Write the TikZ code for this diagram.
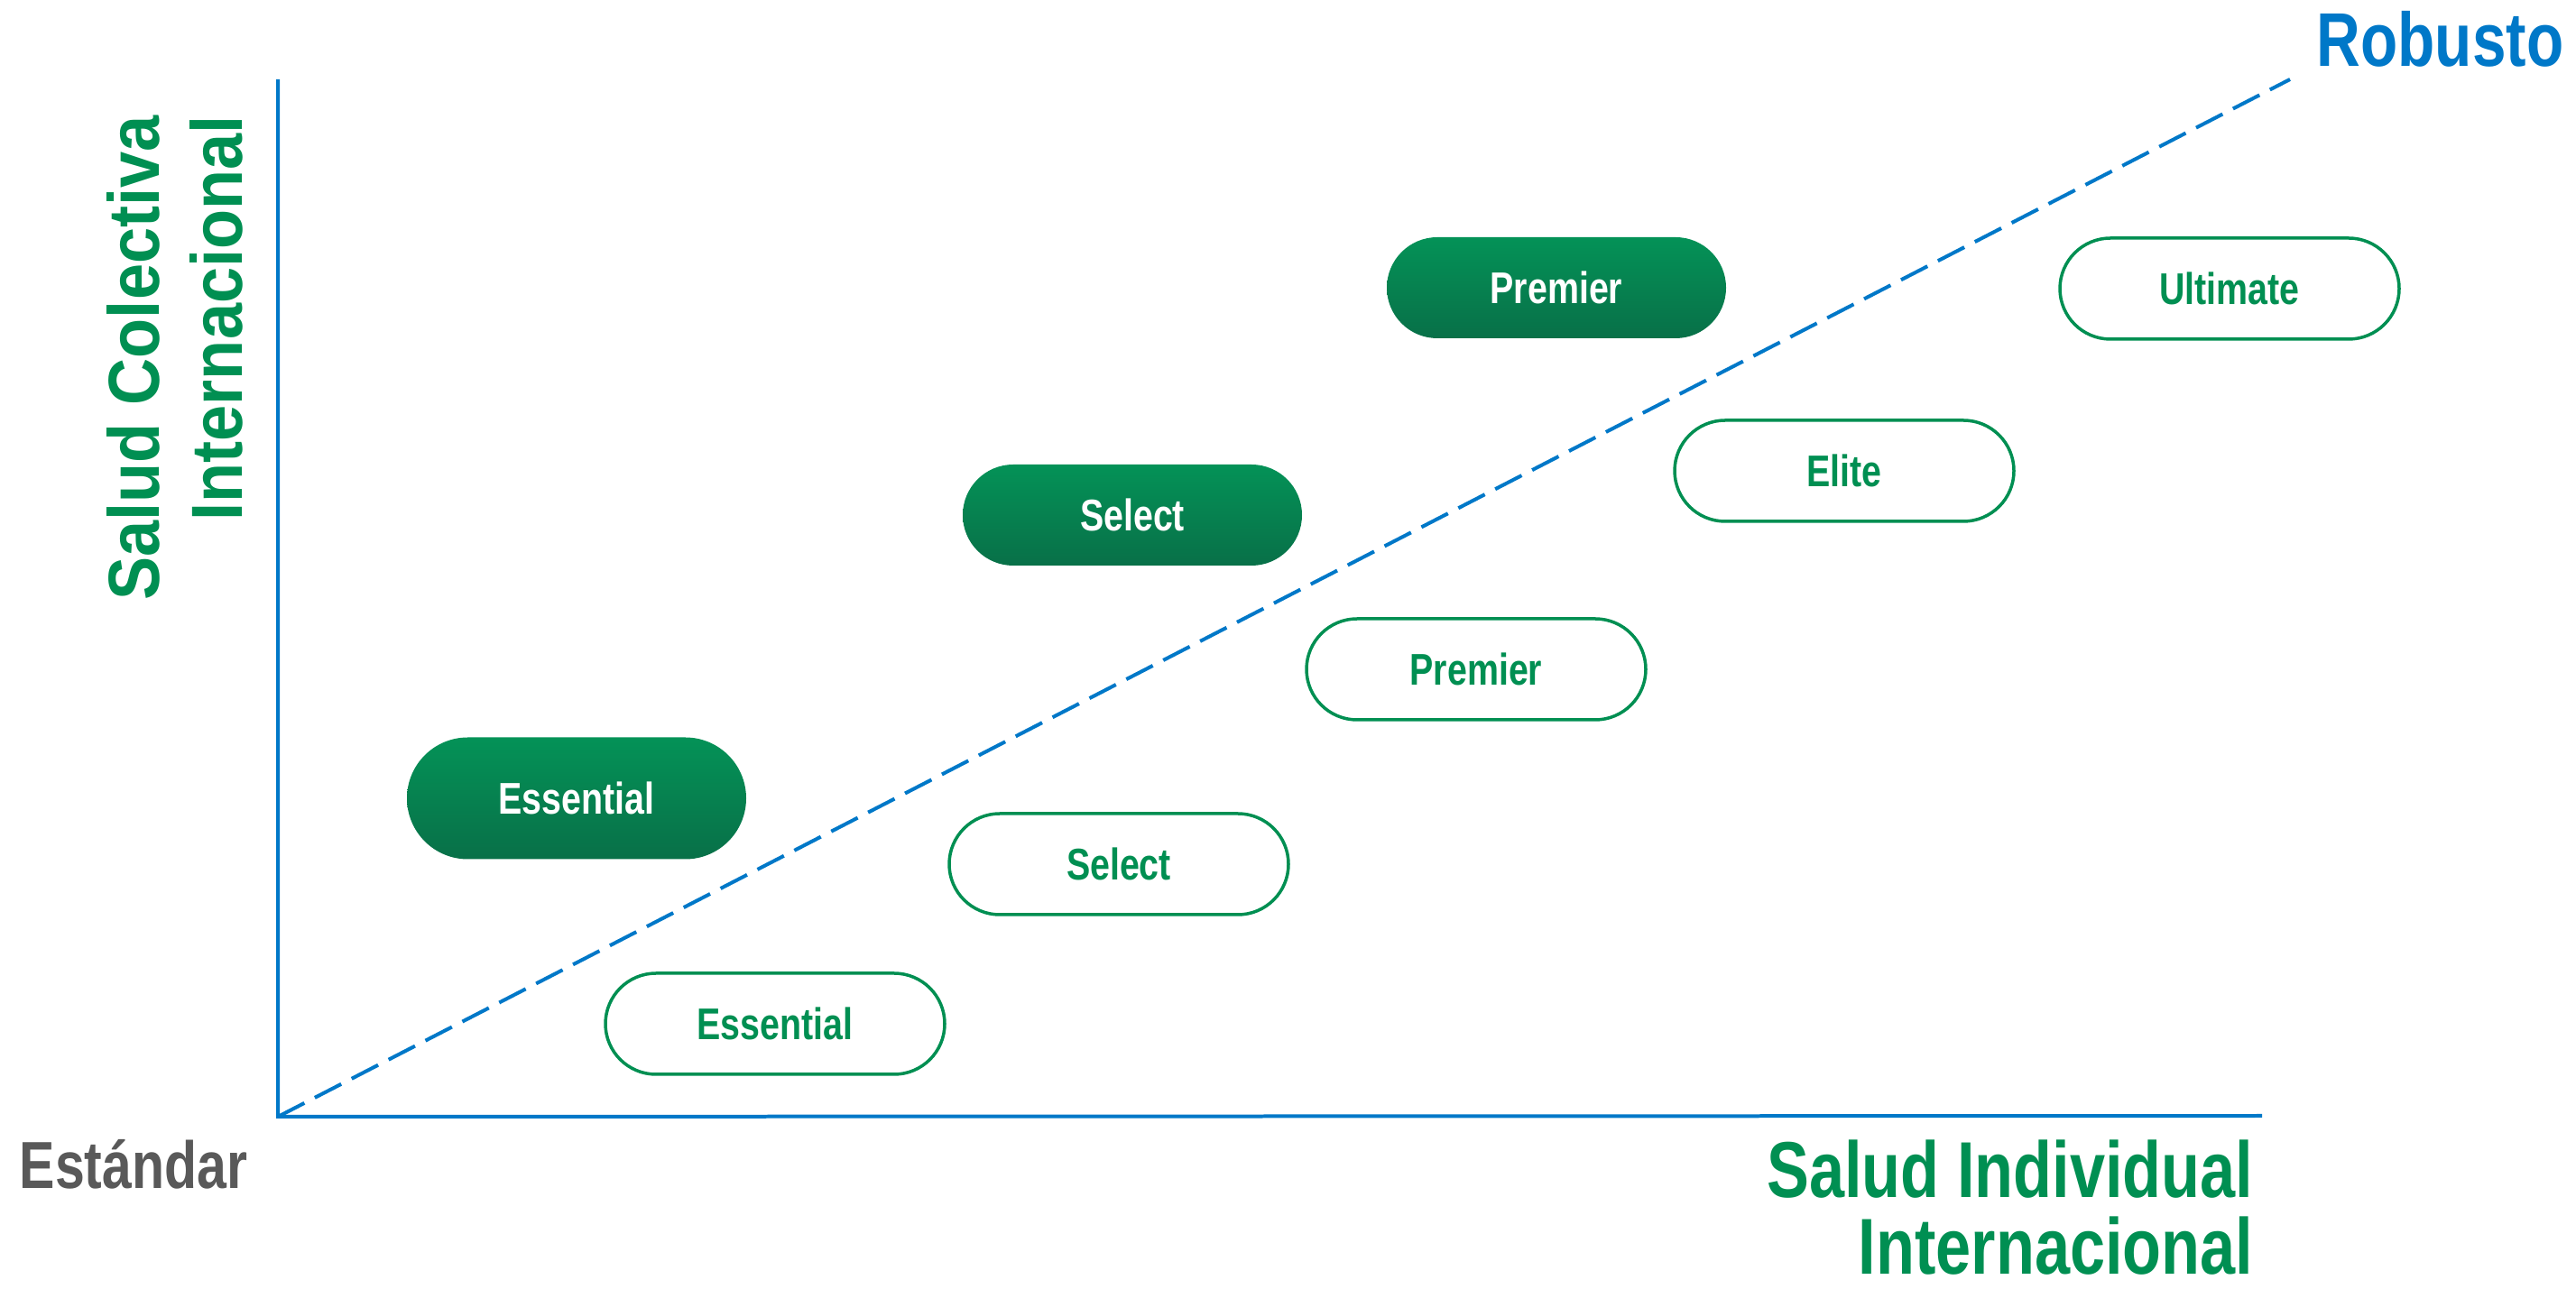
\documentclass[tikz,border=0pt]{standalone}
\usepackage{fontspec}
\setmainfont{Liberation Sans}
\newfontfamily\condfont{Liberation Sans}[FakeStretch=0.8]
\newfontfamily\widefont{Liberation Sans}[FakeStretch=0.9]
\usepackage{tikz}
\usetikzlibrary{shapes.misc,positioning}
\definecolor{planblue}{HTML}{0078C8}
\definecolor{plangreen}{HTML}{008F52}
\definecolor{topgreen}{HTML}{049257}
\definecolor{botgreen}{HTML}{087048}
\definecolor{labelgray}{HTML}{595959}

\begin{document}
\begin{tikzpicture}[
plan/.style={rounded rectangle,minimum width=3.76cm,minimum height=1.12cm,inner sep=0pt,font=\condfont\bfseries\fontsize{14}{16}\selectfont},
planfull/.style={plan,top color=topgreen,bottom color=botgreen,text=white},
planline/.style={plan,draw=plangreen,line width=0.035cm,fill=white,text=plangreen},
axis/.style={draw=planblue,line width=0.04cm}]
\useasboundingbox (0,0) rectangle (28.55,14.29);
\coordinate (o) at (3.08,1.91);
\coordinate (ytop) at (3.08,13.41);
\coordinate (xend) at (25.07,1.92);
\coordinate (diagend) at (25.38,13.41);
\draw[axis] (ytop)--(o)--(xend);
\draw[axis,dash pattern=on 0.33cm off 0.13cm] (o)--(diagend);
\node[planfull,minimum height=1.35cm] (essfull) at (6.39,5.44) {Essential};
\node[planfull] (selfull) at (12.55,8.58) {Select};
\node[planfull] (premfull) at (17.25,11.10) {Premier};
\node[planline] (essline) at (8.59,2.94) {Essential};
\node[planline] (selline) at (12.40,4.71) {Select};
\node[planline] (premline) at (16.36,6.87) {Premier};
\node[planline] (eliteline) at (20.44,9.07) {Elite};
\node[planline] (ultline) at (24.71,11.09) {Ultimate};
\node[rotate=90,align=right,text=plangreen,font=\widefont\bfseries\fontsize{22.8}{26.2}\selectfont] (ylabel) at (1.94,10.32) {Salud Colectiva\\Internacional};
\node[anchor=south east,align=right,inner sep=0pt,text=plangreen,font=\condfont\bfseries\fontsize{25}{24.2}\selectfont] (xlabel) at (24.98,0.15) {Salud Individual\\Internacional};
\node[anchor=base east,inner sep=0pt,text=planblue,font=\condfont\bfseries\fontsize{24}{28}\selectfont] (robusto) at (28.42,13.55) {Robusto};
\node[anchor=base west,inner sep=0pt,text=labelgray,font=\condfont\bfseries\fontsize{21}{24}\selectfont] (estandar) at (0.21,1.11) {Estándar};
\end{tikzpicture}
\end{document}
